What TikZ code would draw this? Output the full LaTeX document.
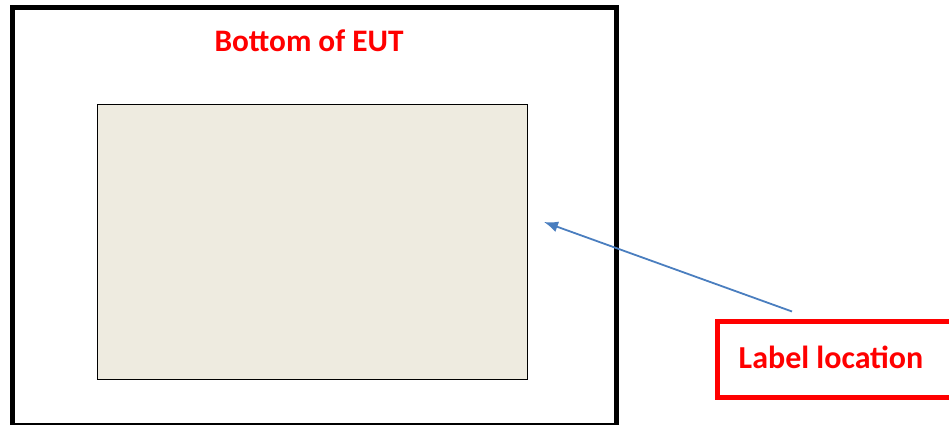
\documentclass[tikz,border=0pt]{standalone}
\usepackage{fontspec}
\setmainfont{Carlito}
\usetikzlibrary{arrows.meta}
\definecolor{beige}{HTML}{EEEBE0}
\definecolor{arrowblue}{HTML}{4A7EBF}
\definecolor{redtxt}{HTML}{FF0000}
\begin{document}
\begin{tikzpicture}[x=1pt,y=-1pt,
  redlabel/.style={text=redtxt,font=\bfseries\fontsize{31.3}{37}\selectfont,inner sep=0pt,anchor=base},
]
\useasboundingbox (0,0) rectangle (949,425);
\node[draw=black,line width=5pt,minimum width=604pt,minimum height=417.5pt,inner sep=0pt,anchor=north west] (eut) at (9.5,5.2) {};
\node[draw=black,line width=1pt,fill=beige,minimum width=429.4pt,minimum height=275pt,inner sep=0pt,anchor=north west] (lbl) at (97.3,104.3) {};
\node[redlabel] (title) at (309,51.7) {Bottom of EUT};
\node[redlabel,font=\bfseries\fontsize{32}{38}\selectfont] (ltext) at (831,368) {Label location};
\coordinate (lboxtr) at (960,321);
\coordinate (lboxbr) at (960,397.5);
\draw[redtxt,line width=5pt] (lboxtr) -- (717,321) -- (717,397.5) -- (lboxbr);
\coordinate (start) at (792,311.5);
\coordinate (tip) at (544,222);
\draw[arrowblue,line width=1.8pt,-{Latex[length=14pt,width=11pt]}] (start) -- (tip);
\end{tikzpicture}
\end{document}
